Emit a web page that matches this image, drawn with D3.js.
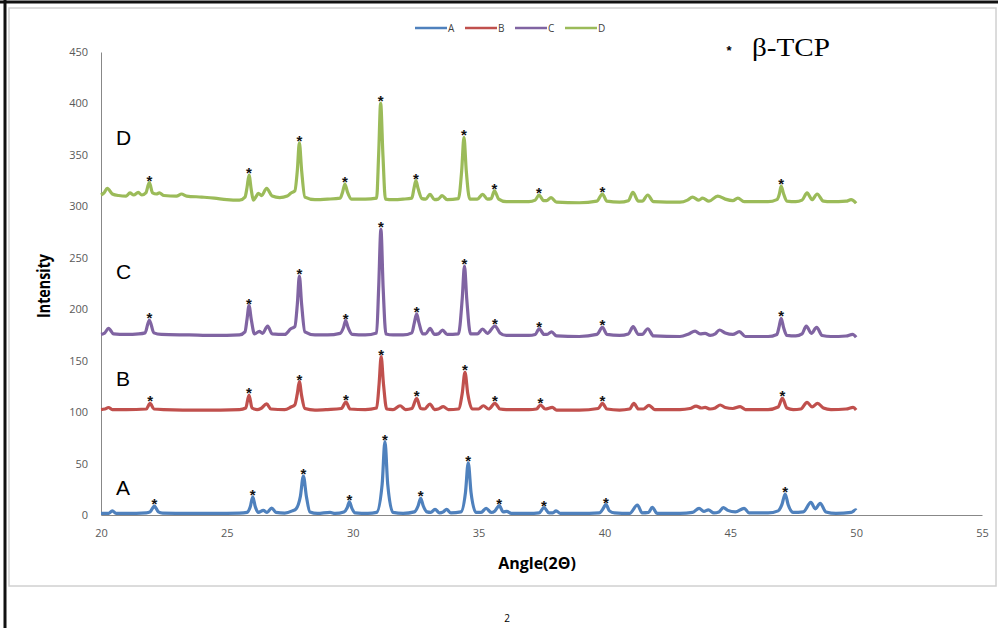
<!DOCTYPE html>
<html>
<head>
<meta charset="utf-8">
<title>XRD</title>
<script src="https://d3js.org/d3.v7.min.js"></script>
<style>
    body { margin: 0; background: #fff; }
    .axis path { stroke: #888; }
    .axis text { font-family: "Open Sans", sans-serif; font-size: 11px; fill: #595959; }
</style>
</head>
<body>
<script>
// angle (2 theta), intensity
var seriesA = [[20.0,1.5],[20.3,1.5],[20.45,4],[20.6,1.5],[21.0,1.5],[21.8,2],[21.95,3],[22.12,8.6],[22.28,3],[22.45,1.8],[23.5,1.5],[24.5,1.5],[25.5,1.8],[25.8,2.5],[25.93,8],[26.03,17.7],[26.13,8],[26.25,2.5],[26.45,4.5],[26.6,2.5],[26.78,6.8],[26.95,2.5],[27.3,1.8],[27.6,4],[27.75,6],[27.92,18],[28.04,37.9],[28.16,18],[28.3,3],[28.6,1.5],[29.1,2.5],[29.3,1.5],[29.65,3],[29.78,7],[29.87,12.9],[29.96,7],[30.1,2],[30.6,1.5],[30.95,2.5],[31.17,30],[31.28,71.3],[31.39,30],[31.6,2.5],[32.0,1.5],[32.45,3],[32.6,9],[32.7,16.2],[32.8,9],[32.95,3],[33.1,2.5],[33.27,5.5],[33.45,2],[33.6,3],[33.73,5.5],[33.9,2],[34.3,3],[34.48,22],[34.59,50.8],[34.7,22],[34.9,2.5],[35.1,2.5],[35.3,6.5],[35.5,2.5],[35.65,4],[35.82,9.1],[35.98,3],[36.12,3.5],[36.3,1.5],[37.0,1.5],[37.4,2],[37.6,7.1],[37.8,2],[37.95,2],[38.08,4],[38.25,1.5],[39.0,1.5],[39.8,2],[39.92,5],[40.06,10],[40.2,4],[40.4,2],[41.0,1.5],[41.31,9.7],[41.5,2],[41.75,2.5],[41.9,7.4],[42.1,1.5],[43.0,1.5],[43.5,2.5],[43.76,6.5],[43.95,3.5],[44.13,4.9],[44.35,2],[44.55,3],[44.72,7.1],[44.9,4.5],[45.2,3],[45.55,6.5],[45.75,2],[46.5,2],[46.9,4],[47.05,10],[47.18,20.4],[47.3,10],[47.5,2.5],[47.9,3],[48.2,12.3],[48.38,6],[48.57,11.4],[48.8,3],[49.2,1.5],[49.8,2.5],[49.98,4.9],[50.0,4.5]];

var seriesB = [[20.0,102.5],[20.15,103],[20.3,104.5],[20.45,102.5],[21.0,102.5],[21.8,103],[21.95,108.5],[22.1,103],[22.5,102.5],[24.0,102],[25.5,102.5],[25.75,104],[25.88,116.6],[26.0,104],[26.2,102.5],[26.35,103.5],[26.58,108],[26.75,103],[27.3,102.5],[27.55,105],[27.7,107],[27.8,118],[27.88,129.6],[27.97,116],[28.1,103.5],[28.5,102],[29.0,102.5],[29.55,103.5],[29.73,109.8],[29.9,103],[30.5,102.5],[30.95,104],[31.05,128],[31.13,153.9],[31.22,128],[31.35,103],[31.6,102.5],[31.88,106.2],[32.1,102.5],[32.35,103.5],[32.54,113.4],[32.7,103.5],[32.85,103],[33.07,107.9],[33.25,102.5],[33.4,103],[33.6,105.3],[33.8,102.5],[34.2,103],[34.35,118],[34.46,138.7],[34.57,118],[34.75,103],[35.0,103],[35.19,106.2],[35.4,103],[35.65,108.5],[35.85,103],[36.1,102.5],[37.0,102.5],[37.3,103],[37.46,106.9],[37.65,103],[37.93,104.6],[38.1,102],[39.0,102],[39.75,103.5],[39.92,108.5],[40.1,103],[40.6,102],[41.0,103],[41.17,108.5],[41.35,103],[41.55,103],[41.77,106.6],[42.0,102.5],[43.0,102.5],[43.4,103.5],[43.64,105.9],[43.85,104],[44.0,104.6],[44.2,103],[44.4,104],[44.6,106.9],[44.8,104.5],[45.1,103.5],[45.39,105.3],[45.6,102.5],[46.5,102.5],[46.9,105],[47.07,113.4],[47.25,104],[47.5,102.5],[47.8,103],[48.05,109.5],[48.25,105],[48.47,108.5],[48.7,104],[49.0,102.5],[49.6,103],[49.88,104.6],[50.0,102]];

var seriesC = [[20.0,175.5],[20.15,177],[20.3,181.4],[20.5,176],[21.0,175.5],[21.5,176],[21.75,177],[21.92,189.5],[22.1,177],[22.4,175.5],[23.5,175],[24.5,174.5],[25.5,175],[25.72,178],[25.8,190],[25.88,203.5],[25.97,190],[26.1,176],[26.29,178.5],[26.42,176.5],[26.62,183.7],[26.8,176],[27.3,175.5],[27.54,181],[27.7,183],[27.8,205],[27.88,232.3],[27.97,205],[28.1,178],[28.5,175],[29.0,175],[29.5,176.5],[29.63,182],[29.72,188.9],[29.82,182],[29.98,175.5],[30.5,175],[30.95,177],[31.03,220],[31.12,277.6],[31.21,220],[31.32,176],[31.6,175],[32.0,175],[32.35,177],[32.45,187],[32.54,195.4],[32.63,187],[32.78,176],[32.9,176],[33.07,181.4],[33.25,175.5],[33.4,176],[33.57,179.7],[33.75,175.5],[34.2,176],[34.35,210],[34.44,242],[34.53,210],[34.68,176],[34.95,176],[35.16,180.8],[35.35,176.5],[35.65,183.7],[35.85,177],[36.1,174.5],[37.0,174.5],[37.25,175.5],[37.41,181],[37.6,175.5],[37.72,175.5],[37.9,178],[38.1,174],[39.0,173.5],[39.7,175.5],[39.92,182.3],[40.1,175.5],[40.6,174.5],[40.95,176],[41.14,183],[41.35,175.5],[41.5,175.5],[41.72,181],[41.95,174],[43.0,173.5],[43.35,176],[43.6,178.8],[43.8,176],[44.0,176.6],[44.2,174.5],[44.4,176],[44.57,179.8],[44.8,177],[45.1,175.5],[45.36,178.2],[45.6,173.5],[46.5,173.5],[46.85,175.5],[46.93,182],[47.02,191.1],[47.12,182],[47.25,174.5],[47.6,174],[47.85,176],[48.02,183.7],[48.22,176.5],[48.43,182.3],[48.65,174.5],[49.0,173.5],[49.6,174],[49.86,175.6],[50.0,172.7]];

var seriesD = [[20.0,311],[20.12,313],[20.25,317.5],[20.45,312],[20.7,310.5],[21.0,310],[21.15,313],[21.3,311],[21.48,313.5],[21.62,311],[21.78,313],[21.92,323],[22.05,313],[22.2,312],[22.32,313],[22.5,310.5],[23.0,310],[23.2,312],[23.4,310],[24.0,309],[24.5,308],[25.0,306.5],[25.5,306],[25.72,309],[25.8,318],[25.88,330.4],[25.97,316],[26.05,306],[26.15,309],[26.25,312.6],[26.38,310.5],[26.58,317.5],[26.8,310],[27.1,308.5],[27.4,310],[27.55,313],[27.7,315],[27.8,335],[27.88,361.8],[27.97,335],[28.1,309],[28.5,306.5],[29.0,307],[29.5,308],[29.6,314],[29.69,321.7],[29.79,314],[29.95,307],[30.5,307],[30.95,308],[31.03,350],[31.11,400.1],[31.2,350],[31.3,307],[31.6,306.5],[32.0,307],[32.35,308],[32.43,317],[32.51,324.9],[32.6,317],[32.75,307.5],[32.9,307],[33.07,311.7],[33.25,306.5],[33.4,307],[33.55,310.4],[33.75,306.5],[34.2,307.5],[34.33,335],[34.42,367],[34.51,335],[34.65,307],[34.95,307],[35.16,311.7],[35.35,307],[35.5,307.5],[35.63,315],[35.8,307],[36.1,304.5],[37.0,304.5],[37.25,306],[37.4,311],[37.58,305.5],[37.7,305.5],[37.88,308.4],[38.1,304],[39.0,303.5],[39.7,305],[39.92,312],[40.1,305],[40.6,304],[40.95,305.5],[41.13,313.5],[41.35,305],[41.5,305],[41.72,311],[41.95,304.5],[43.0,304],[43.3,306],[43.5,309],[43.75,306],[43.9,308],[44.15,305],[44.5,310],[44.8,307],[45.1,305.5],[45.3,308],[45.55,304.5],[46.5,304.5],[46.85,306.5],[46.95,312],[47.02,319.7],[47.12,312],[47.25,305],[47.6,304.5],[47.85,306],[48.05,313],[48.25,306.5],[48.45,312],[48.7,305],[49.0,304.5],[49.6,305],[49.8,306.5],[50.0,303]];

// peaks marked with * (beta-TCP)
var starsA = [22.12, 26.03, 28.04, 29.87, 31.28, 32.7, 34.59, 35.82, 37.6, 40.06, 47.18];
var starsB = [21.95, 25.88, 27.88, 29.73, 31.13, 32.54, 34.46, 35.65, 37.46, 39.92, 47.07];
var starsC = [21.92, 25.88, 27.88, 29.72, 31.12, 32.54, 34.44, 35.65, 37.41, 39.92, 47.02];
var starsD = [21.92, 25.88, 27.88, 29.69, 31.11, 32.51, 34.42, 35.63, 37.4, 39.92, 47.02];

var names = ["A", "B", "C", "D"];
var colors = ["#4f81bd", "#c0504d", "#8064a2", "#9bbb59"];
var labelY = [19.5, 125.5, 229.5, 359.5];   // where the big letters sit, in intensity units
var xTicks = [20, 25, 30, 35, 40, 45, 50, 55];
var yTicks = [0, 50, 100, 150, 200, 250, 300, 350, 400, 450];

var width = 998, height = 628;
var svg = d3.select("body").append("svg")
    .attr("width", width)
    .attr("height", height);

// page frame
svg.append("rect").attr("x", 9).attr("y", 8).attr("width", 987).attr("height", 578)
    .attr("fill", "none").attr("stroke", "#d0d0d0").attr("stroke-width", 1.5);
svg.append("line").attr("x1", 0).attr("x2", width).attr("y1", 2).attr("y2", 2)
    .attr("stroke", "#111").attr("stroke-width", 3);
svg.append("line").attr("x1", 5).attr("x2", 5).attr("y1", 0).attr("y2", height)
    .attr("stroke", "#111").attr("stroke-width", 3);

var x = d3.scaleLinear().domain([20, 55]).range([101, 982]);
var y = d3.scaleLinear().domain([0, 450]).range([515, 52]);

svg.append("g").attr("class", "axis")
    .attr("transform", "translate(0,515)")
    .call(d3.axisBottom(x).tickValues(xTicks).tickSize(0).tickPadding(14));
svg.append("g").attr("class", "axis")
    .attr("transform", "translate(101,0)")
    .call(d3.axisLeft(y).tickValues(yTicks).tickSize(0).tickPadding(13));

var line = d3.line()
    .x(d => x(d[0]))
    .y(d => y(d[1]))
    .curve(d3.curveMonotoneX);

var all = [seriesA, seriesB, seriesC, seriesD];
var stars = [starsA, starsB, starsC, starsD];

all.forEach(function(s, i) {
    svg.append("path")
        .datum(s)
        .attr("d", line)
        .attr("fill", "none")
        .attr("stroke", colors[i])
        .attr("stroke-width", 3.2)
        .attr("stroke-linejoin", "round");

    svg.append("g").selectAll("text")
        .data(stars[i])
        .enter().append("text")
        .attr("x", a => x(a))
        .attr("y", a => y(s.find(d => d[0] === a)[1]) + 3)
        .attr("text-anchor", "middle")
        .style("font-family", "Liberation Sans, Arial, sans-serif")
        .style("font-weight", "bold")
        .style("font-size", "15px")
        .style("fill", "#111")
        .text("*");

    svg.append("text")
        .attr("x", 116)
        .attr("y", y(labelY[i]))
        .style("font-family", "Liberation Sans, Arial, sans-serif")
        .style("font-size", "21px")
        .text(names[i]);
});

// legend
var legend = svg.append("g").selectAll("g")
    .data(names)
    .enter().append("g")
    .attr("transform", (d, i) => "translate(" + (415 + i * 50) + ",28)");
legend.append("line")
    .attr("x1", 0).attr("x2", 32)
    .attr("stroke", (d, i) => colors[i])
    .attr("stroke-width", 2.5);
legend.append("text")
    .attr("x", 33).attr("y", 3.5)
    .style("font-family", "Open Sans, sans-serif")
    .style("font-size", "10px")
    .style("fill", "#404040")
    .text(d => d);

// beta-TCP key
svg.append("text").attr("x", 729).attr("y", 55)
    .attr("text-anchor", "middle")
    .style("font-family", "Liberation Sans, Arial, sans-serif")
    .style("font-weight", "bold")
    .style("font-size", "13px")
    .text("*");
svg.append("text").attr("x", 752).attr("y", 56)
    .attr("textLength", 78)
    .attr("lengthAdjust", "spacingAndGlyphs")
    .style("font-family", "Liberation Serif, Times New Roman, serif")
    .style("font-size", "26px")
    .text("β-TCP");

// axis titles
svg.append("text")
    .attr("transform", "translate(50,286) rotate(-90)")
    .attr("text-anchor", "middle")
    .attr("textLength", 64)
    .attr("lengthAdjust", "spacingAndGlyphs")
    .style("font-family", "Open Sans, sans-serif")
    .style("font-weight", "bold")
    .style("font-size", "17px")
    .text("Intensity");
svg.append("text")
    .attr("x", 537).attr("y", 569)
    .attr("text-anchor", "middle")
    .style("font-family", "Open Sans, sans-serif")
    .style("font-weight", "bold")
    .style("font-size", "16px")
    .text("Angle(2Θ)");

// page number
svg.append("text").attr("x", 507).attr("y", 622)
    .attr("text-anchor", "middle")
    .style("font-family", "Open Sans, sans-serif")
    .style("font-size", "10px")
    .text("2");
</script>
</body>
</html>
